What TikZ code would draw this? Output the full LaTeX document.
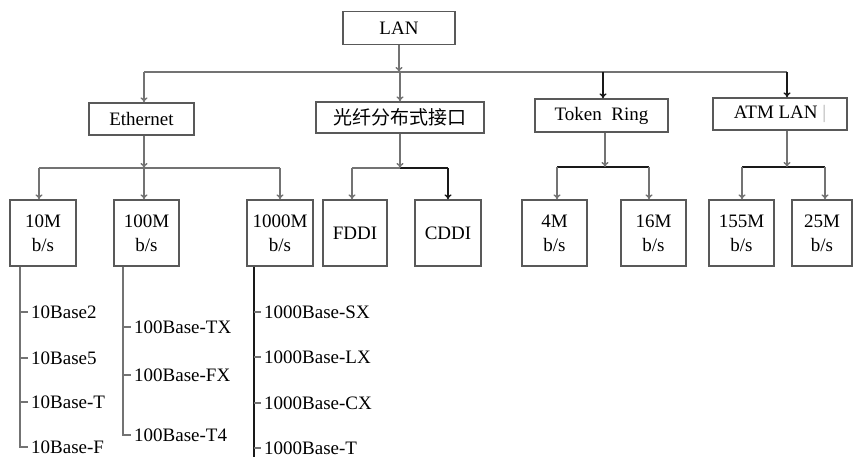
\documentclass[tikz,border=0pt]{standalone}
\usepackage{fontspec}
\setmainfont{Liberation Serif}
\newfontfamily\cjkfont{Noto Sans CJK SC}
\usetikzlibrary{arrows.meta}

\tikzset{
  box/.style={draw=black!65, line width=1.3pt, fill=white, inner sep=0pt, align=center,
    font=\fontsize{19}{24}\selectfont},
  link/.style={draw=black!55, line width=1.4pt},
  dark/.style={draw=black!90},
  arr/.style={link, -{To[length=5pt,width=7pt]}},
  item/.style={anchor=west, inner xsep=3pt, inner ysep=1pt, font=\fontsize{19}{22}\selectfont},
}

\begin{document}
\begin{tikzpicture}[x=1pt, y=-1pt]
  \useasboundingbox (0,0) rectangle (853,457);

  % Root
  \node[box, minimum width=112pt, minimum height=33pt] (lan) at (399,28) {LAN};

  % Level 1
  \node[box, minimum width=105pt, minimum height=32pt] (eth) at (141.5,119) {Ethernet};
  \node[box, minimum width=168pt, minimum height=31pt] (fibre) at (400,117.5) {\cjkfont 光纤分布式接口};
  \node[box, minimum width=133pt, minimum height=33pt] (token) at (601.5,115.5) {Token~ Ring};
  \node[box, minimum width=134pt, minimum height=32pt] (atm) at (780,114) {ATM LAN \textcolor{black!30}{|}};

  \coordinate (b1) at (144,72);
  \coordinate (b2) at (400,72);
  \coordinate (b3) at (603,72);
  \coordinate (b4) at (787,72);
  \draw[link] (b1) -- (b4);
  \draw[arr] (lan.south) -- (lan.south |- b2);
  \draw[arr] (b1) -- (b1 |- eth.north);
  \draw[arr] (b2) -- (b2 |- fibre.north);
  \draw[arr, dark] (b3) -- (b3 |- token.north);
  \draw[arr, dark] (b4) -- (b4 |- atm.north);

  % Level 2
  \node[box, minimum width=66pt, minimum height=66pt] (m10) at (43,233) {10M\\b/s};
  \node[box, minimum width=65pt, minimum height=66pt] (m100) at (146.5,233) {100M\\b/s};
  \node[box, minimum width=66pt, minimum height=66pt] (m1000) at (280,233) {1000M\\b/s};
  \node[box, minimum width=64pt, minimum height=66pt] (fddi) at (355,233) {FDDI};
  \node[box, minimum width=66pt, minimum height=66pt] (cddi) at (448,233) {CDDI};
  \node[box, minimum width=65pt, minimum height=66pt] (m4) at (554.5,233) {4M\\b/s};
  \node[box, minimum width=65pt, minimum height=66pt] (m16) at (653.5,233) {16M\\b/s};
  \node[box, minimum width=65pt, minimum height=66pt] (m155) at (741.5,233) {155M\\b/s};
  \node[box, minimum width=60pt, minimum height=66pt] (m25) at (822,233) {25M\\b/s};

  % Ethernet bus
  \coordinate (e1) at (39,168);
  \coordinate (e2) at (144,168);
  \coordinate (e3) at (280,168);
  \draw[link] (e1) -- (e3);
  \draw[arr] (e2 |- eth.south) -- (e2);
  \draw[arr] (e1) -- (e1 |- m10.north);
  \draw[arr] (e2) -- (e2 |- m100.north);
  \draw[arr] (e3) -- (e3 |- m1000.north);

  % Fibre bus
  \coordinate (f0) at (400,168);
  \coordinate (f1) at (352,168);
  \coordinate (f2) at (448,168);
  \draw[link] (f1) -- (f0);
  \draw[link, dark] (f0) -- (f2);
  \draw[arr] (fibre.south) -- (f0);
  \draw[arr] (f1) -- (f1 |- fddi.north);
  \draw[arr, dark] (f2) -- (f2 |- cddi.north);

  % Token Ring bus
  \coordinate (t0) at (605,167);
  \coordinate (t1) at (557,167);
  \coordinate (t2) at (649,167);
  \draw[link, dark] (t1) -- (t2);
  \draw[arr] (t0 |- token.south) -- (t0);
  \draw[arr] (t1) -- (t1 |- m4.north);
  \draw[arr] (t2) -- (t2 |- m16.north);

  % ATM bus
  \coordinate (a0) at (787,167);
  \coordinate (a1) at (742,167);
  \coordinate (a2) at (825,167);
  \draw[link, dark] (a1) -- (a2);
  \draw[arr] (a0 |- atm.south) -- (a0);
  \draw[arr] (a1) -- (a1 |- m155.north);
  \draw[arr] (a2) -- (a2 |- m25.north);

  % 10M list
  \coordinate (x10) at (20,0);
  \node[item] (i10a) at (28,312) {10Base2};
  \node[item] (i10b) at (28,358) {10Base5};
  \node[item] (i10c) at (28,402) {10Base-T};
  \node[item] (i10d) at (28,447) {10Base-F};
  \draw[link] (x10 |- m10.south) |- (i10d.west);
  \foreach \i in {i10a,i10b,i10c} \draw[link] (x10 |- \i) -- (\i.west);

  % 100M list
  \coordinate (x100) at (123,0);
  \node[item] (i100a) at (131,327) {100Base-TX};
  \node[item] (i100b) at (131,375) {100Base-FX};
  \node[item] (i100c) at (131,435) {100Base-T4};
  \draw[link] (x100 |- m100.south) |- (i100c.west);
  \foreach \i in {i100a,i100b} \draw[link] (x100 |- \i) -- (\i.west);

  % 1000M list
  \coordinate (x1000) at (254,457);
  \node[item] (i1000a) at (261,312) {1000Base-SX};
  \node[item] (i1000b) at (261,357) {1000Base-LX};
  \node[item] (i1000c) at (261,403) {1000Base-CX};
  \node[item] (i1000d) at (261,448) {1000Base-T};
  \draw[link, dark] (x1000 |- m1000.south) -- (x1000);
  \foreach \i in {i1000a,i1000b,i1000c,i1000d} \draw[link] (x1000 |- \i) -- (\i.west);
\end{tikzpicture}
\end{document}
